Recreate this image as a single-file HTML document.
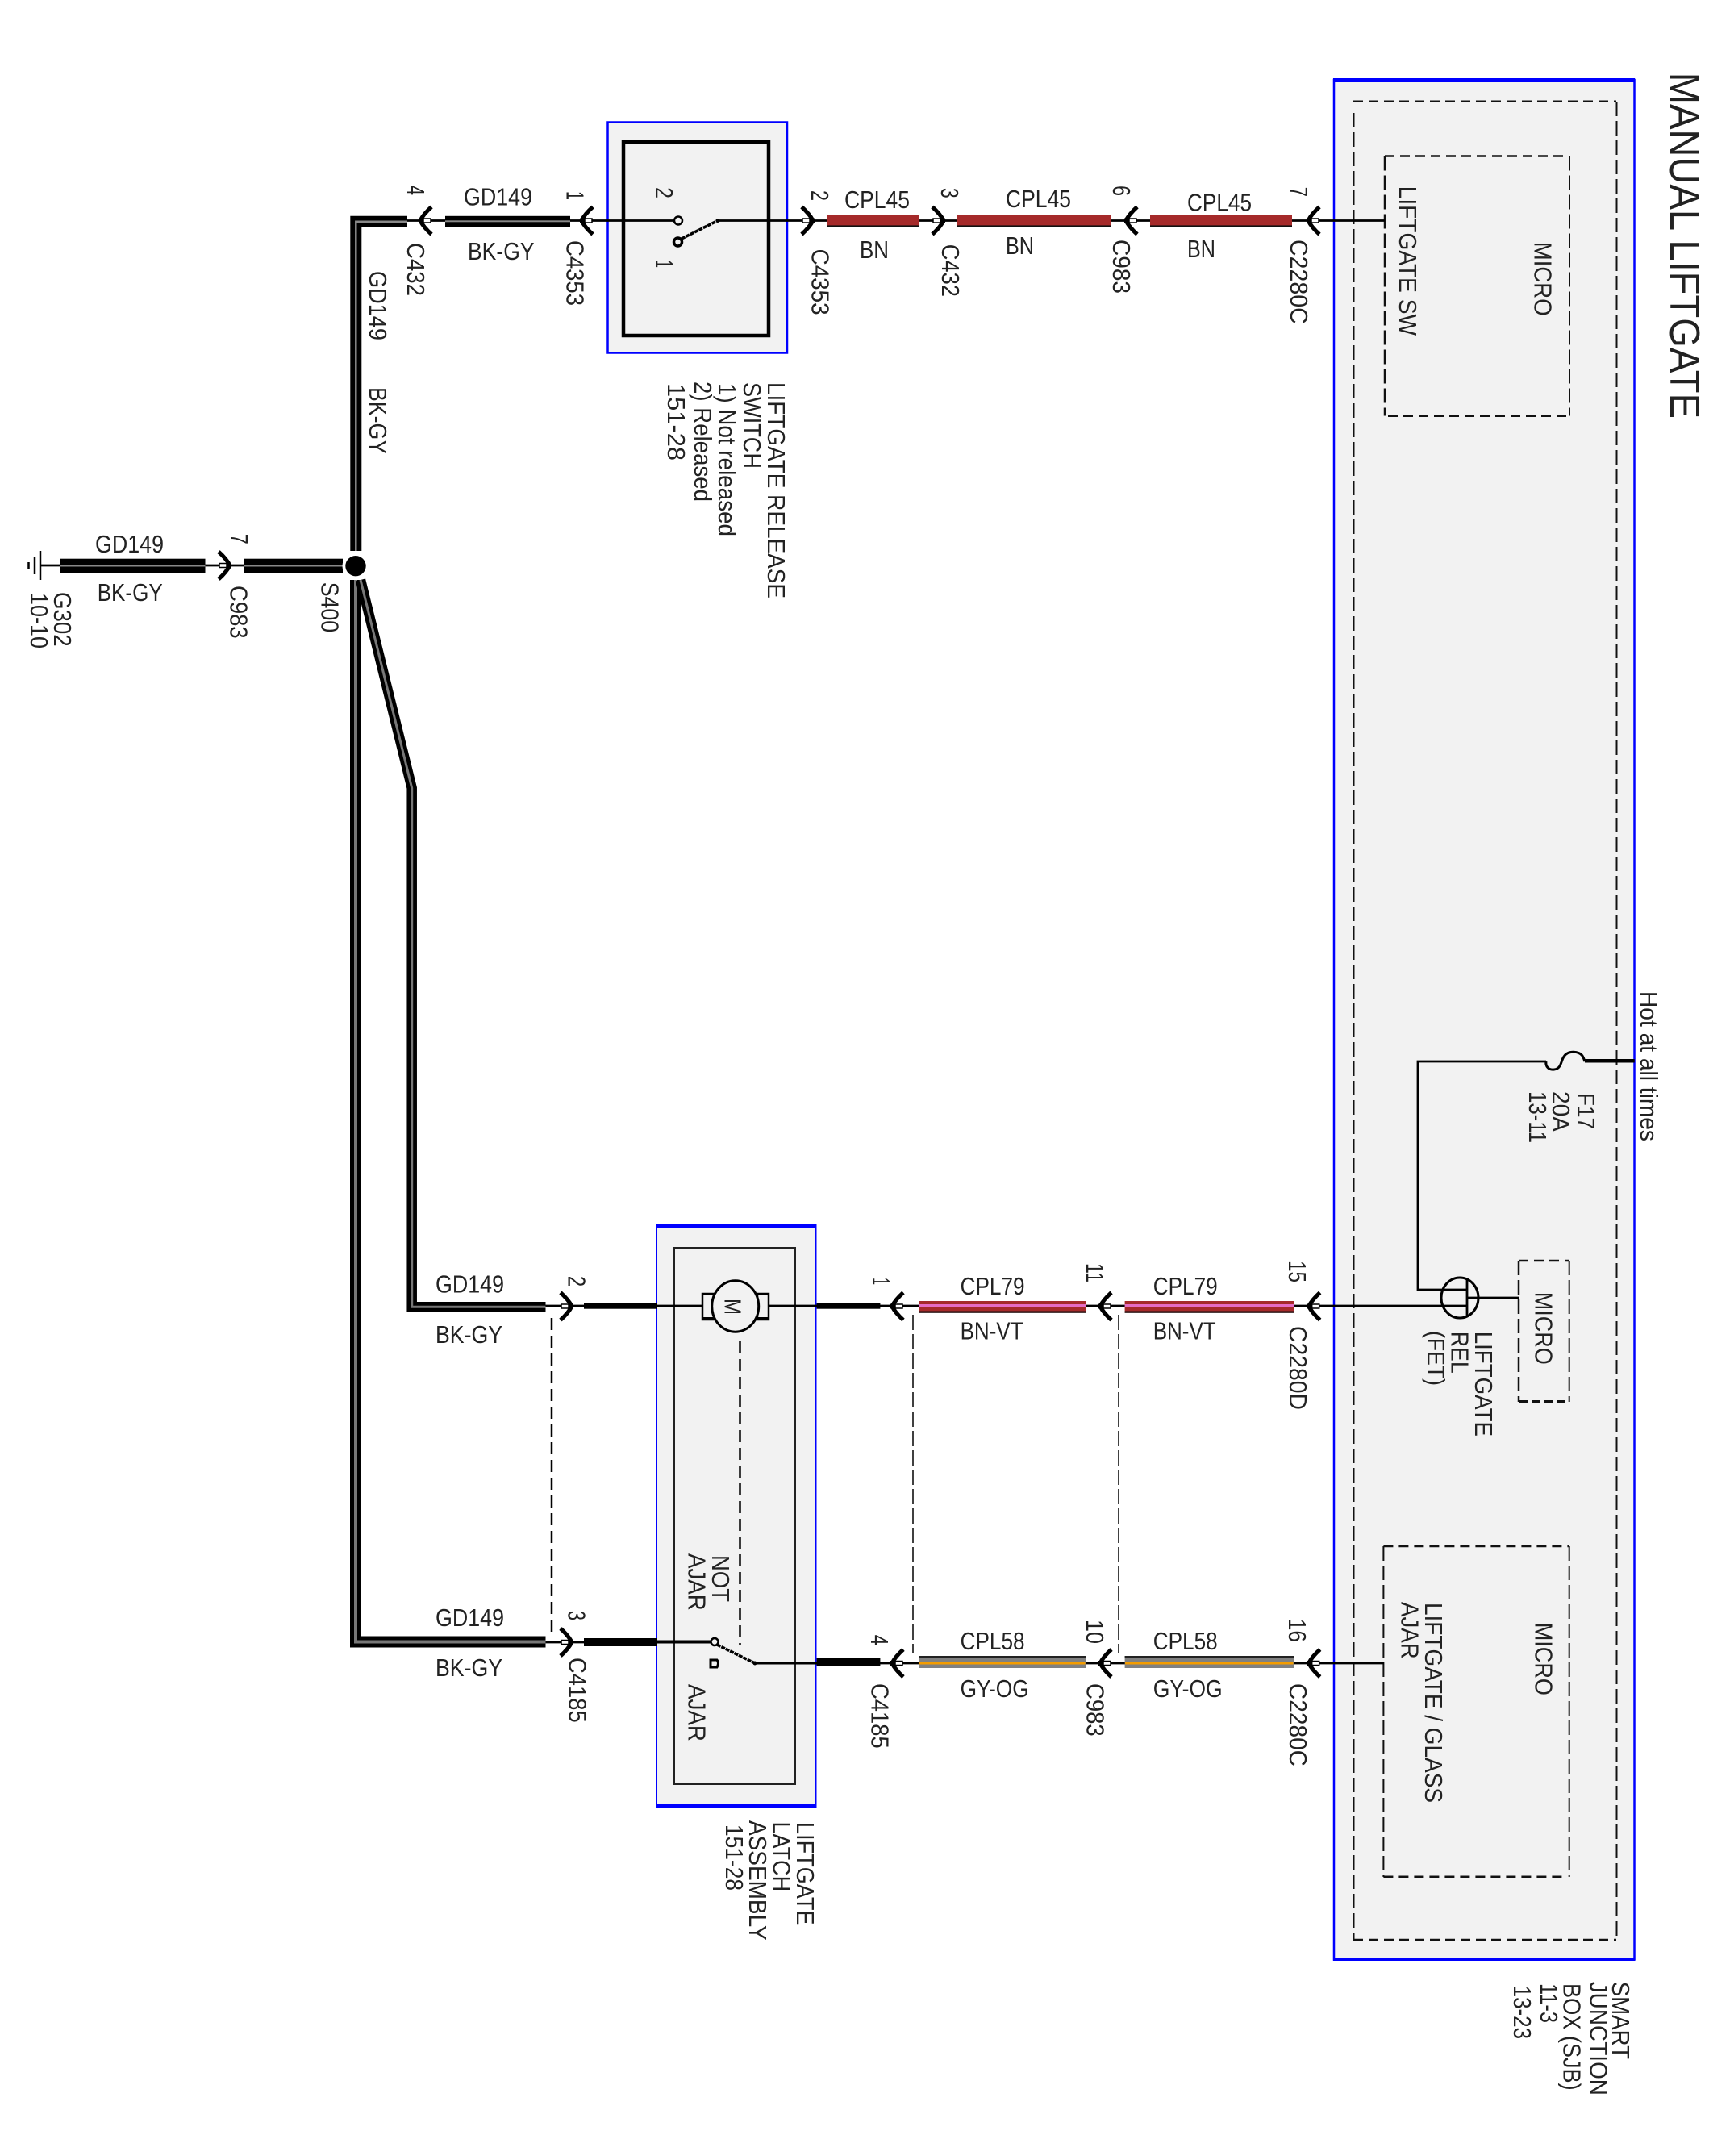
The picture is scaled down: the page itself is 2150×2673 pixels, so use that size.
<!DOCTYPE html>
<html><head><meta charset="utf-8"><style>
html,body{margin:0;padding:0;background:#fff}
svg{display:block}
text{font-family:"Liberation Sans",sans-serif;font-size:31px;fill:#222}
</style></head><body>
<svg width="2150" height="2673" viewBox="0 0 2150 2673" xmlns="http://www.w3.org/2000/svg">
<defs>
<g id="cn"><path d="M15,-17 Q5,-8 1,0 Q5,8 15,17" fill="none" stroke="#000" stroke-width="5"/><rect x="-1" y="-3" width="6" height="6" fill="#000"/><rect x="5" y="-2.500" width="9" height="5" fill="#fff" stroke="#000" stroke-width="1.500"/></g>
</defs>
<rect width="2150" height="2673" fill="#fff"/>

<!-- SJB box -->
<rect x="1654" y="99" width="372.500" height="2330.500" fill="#f2f2f2" stroke="#00f" stroke-width="2.500"/>
<rect x="1653" y="97" width="374" height="5" fill="#00f"/>
<rect x="1653" y="2428" width="374" height="3" fill="#00f"/>
<g fill="none" stroke="#111" stroke-width="2">
<path d="M1678.500,140V2405" stroke-dasharray="18 6"/>
<path d="M2004.500,126V2405" stroke-dasharray="18 6"/>
<path d="M1678,125.700H2004" stroke-width="2.500" stroke-dasharray="12 7"/>
<path d="M1678,2405H2004" stroke-width="2.500" stroke-dasharray="12 7"/>
<path d="M1717,193.500V515.500" stroke-width="2.500" stroke-dasharray="18 6"/>
<path d="M1946,193.500V515.500" stroke-dasharray="18 6"/>
<path d="M1717,193.500H1946" stroke-width="2.500" stroke-dasharray="12 7"/>
<path d="M1721,515.700H1946" stroke-width="2.500" stroke-dasharray="12 7"/>
<path d="M1883,1563V1738" stroke-width="2.500" stroke-dasharray="18 6"/>
<path d="M1945.700,1563V1738" stroke-dasharray="18 6"/>
<path d="M1883,1563H1946" stroke-width="2.500" stroke-dasharray="12 7"/>
<path d="M1883,1738H1940" stroke-width="4" stroke-dasharray="11 5"/>
<path d="M1715.400,1917V2327" stroke-dasharray="18 6"/>
<path d="M1945.700,1917V2327" stroke-dasharray="18 6"/>
<path d="M1715.400,1917H1946" stroke-width="2.500" stroke-dasharray="12 7"/>
<path d="M1715.400,2326.700H1942" stroke-width="2.500" stroke-dasharray="12 7"/>
</g>

<!-- Switch box -->
<rect x="753.500" y="151.500" width="222.500" height="286" fill="#f2f2f2" stroke="#00f" stroke-width="2.500"/>
<rect x="773" y="176" width="180" height="240" fill="#f2f2f2" stroke="#000" stroke-width="4.500"/>

<!-- Latch box -->
<rect x="814" y="1520" width="197.500" height="718" fill="#f2f2f2" stroke="#00f" stroke-width="2"/>
<rect x="813" y="1518" width="199.500" height="5" fill="#00f"/>
<rect x="813" y="2236" width="199.500" height="5" fill="#00f"/>
<rect x="836" y="1547" width="150" height="665" fill="#f2f2f2" stroke="#222" stroke-width="2"/>

<!-- thin wires -->
<g fill="none" stroke="#000" stroke-width="2.800">
<path d="M505,273.500H552M707,273.500H841M890,273.500H1025M1139,273.500H1187M1378,273.500H1426M1602,273.500H1717"/>
<path d="M50,701H75M254,701H302"/>
<path d="M676,1619H724M814,1619H871M953,1619H1013M1091,1619H1140M1346,1619H1395M1604,1619H1819"/>
<path d="M676,2036H724M1091,2062H1140M1346,2062H1395M1604,2062H1716"/>
<path d="M814,2035.500H883" stroke-width="4"/>
<path d="M936,2062H1013" stroke-width="3"/>
<path d="M1917,1316H1758V1599H1819"/>
<path d="M1819,1585V1632M1819,1609H1883"/>
</g>

<!-- dashed links -->
<g fill="none" stroke="#000">
<path d="M684,1634V2030" stroke-width="2.500" stroke-dasharray="15 7"/>
<path d="M917.500,1663V2040" stroke-width="2.500" stroke-dasharray="15 7"/>
<path d="M1132,1630V2050" stroke-width="1.500" stroke-dasharray="19 5"/>
<path d="M1387,1630V2050" stroke-width="1.500" stroke-dasharray="19 5"/>
</g>

<!-- Black-gray wires -->
<g fill="none" stroke-linejoin="miter">
<path d="M505,274.700H441.300V683" stroke="#000" stroke-width="14"/>
<path d="M505,274.700H441.300V683" stroke="#888" stroke-width="2.500"/>
<path d="M441,719V2035.500H676.500" stroke="#000" stroke-width="14"/>
<path d="M441,719V2035.500H676.500" stroke="#777" stroke-width="4"/>
<path d="M447,719L510.700,977V1620.300H676.500" stroke="#000" stroke-width="12.500"/>
<path d="M447,719L510.700,977V1620.300H676.500" stroke="#777" stroke-width="3"/>
<rect x="552" y="267.800" width="155" height="14" fill="#000"/>
<rect x="552" y="273.300" width="155" height="2" fill="#888"/>
<rect x="75" y="692.700" width="179.500" height="17.300" fill="#000"/>
<rect x="75" y="700" width="179.500" height="2.500" fill="#888"/>
<rect x="302" y="692.700" width="123" height="17.300" fill="#000"/>
<rect x="302" y="700" width="123" height="2.500" fill="#888"/>
</g>

<!-- Thick black stubs -->
<rect x="724" y="1615.700" width="90" height="7" fill="#000"/>
<rect x="1012.600" y="1615.700" width="78.800" height="7" fill="#000"/>
<rect x="724" y="2031" width="90" height="10" fill="#000"/>
<rect x="1012.600" y="2056" width="78.800" height="10" fill="#000"/>

<!-- Coloured bands -->
<g>
<rect x="1025" y="267" width="114" height="14.700" fill="#a52a2a"/><rect x="1187" y="267" width="191" height="14.700" fill="#a52a2a"/><rect x="1426" y="267" width="176" height="14.700" fill="#a52a2a"/>
<rect x="1187" y="279.400" width="191" height="2.300" fill="#111"/><rect x="1426" y="279.400" width="176" height="2.300" fill="#111"/><rect x="1025" y="279.400" width="114" height="2.300" fill="#111"/>
<rect x="1139.500" y="1613" width="206.500" height="14.700" fill="#a52a2a"/><rect x="1394.600" y="1613" width="209.400" height="14.700" fill="#a52a2a"/>
<rect x="1139.500" y="1617" width="206.500" height="4" fill="#e56cc4"/><rect x="1394.600" y="1617" width="209.400" height="4" fill="#e56cc4"/>
<rect x="1139.500" y="1625.500" width="206.500" height="2.200" fill="#111"/><rect x="1394.600" y="1625.500" width="209.400" height="2.200" fill="#111"/>
<rect x="1139.500" y="2053" width="206.500" height="15" fill="#808080"/><rect x="1394.600" y="2053" width="209.400" height="15" fill="#808080"/>
<rect x="1139.500" y="2053" width="206.500" height="3" fill="#222"/><rect x="1394.600" y="2053" width="209.400" height="3" fill="#222"/>
<rect x="1140" y="2061" width="205.500" height="2.500" fill="#f39c00"/><rect x="1395" y="2061" width="208.500" height="2.500" fill="#f39c00"/>
</g>

<!-- Connectors -->
<use href="#cn" transform="translate(520,273.500)"/>
<use href="#cn" transform="translate(720,273.500)"/>
<use href="#cn" transform="translate(1009,273.500) scale(-1,1)"/>
<use href="#cn" transform="translate(1171,273.500) scale(-1,1)"/>
<use href="#cn" transform="translate(1395,273.500)"/>
<use href="#cn" transform="translate(1621,273.500)"/>
<use href="#cn" transform="translate(286,701) scale(-1,1)"/>
<use href="#cn" transform="translate(710,1619.500) scale(-1,1)"/>
<use href="#cn" transform="translate(1105,1619.500)"/>
<use href="#cn" transform="translate(1363,1619.500)"/>
<use href="#cn" transform="translate(1621.700,1619.500)"/>
<use href="#cn" transform="translate(710,2036) scale(-1,1)"/>
<use href="#cn" transform="translate(1105,2062)"/>
<use href="#cn" transform="translate(1363,2062)"/>
<use href="#cn" transform="translate(1621.700,2062)"/>

<!-- Node S400 -->
<circle cx="441" cy="701.700" r="16.500" fill="#fff"/>
<circle cx="441" cy="701.700" r="12.700" fill="#000"/>

<!-- Ground -->
<g stroke="#000" stroke-width="2.500"><path d="M50,683V719"/><path d="M43,690V712"/><path d="M35.500,697V705"/></g>

<!-- Switch 1 -->
<g fill="none" stroke="#000">
<circle cx="841" cy="273.500" r="5" fill="#f2f2f2" stroke-width="2.500"/>
<circle cx="840.500" cy="300" r="5" fill="#f2f2f2" stroke-width="3.500"/>
<path d="M845,296L890,273.500" stroke-width="3.500" stroke-dasharray="5 1"/>
</g>
<circle cx="890" cy="273.500" r="2.500" fill="#000"/>

<!-- Motor -->
<g fill="#f2f2f2" stroke="#000">
<rect x="871" y="1604" width="14" height="32" stroke-width="2.500"/>
<rect x="939" y="1604" width="14" height="32" stroke-width="2.500"/>
<rect x="870" y="1633" width="15" height="4" fill="#000" stroke="none"/>
<rect x="939" y="1633" width="15" height="4" fill="#000" stroke="none"/>
<ellipse cx="911.700" cy="1619.500" rx="29" ry="31.700" stroke-width="3"/>
</g>

<!-- Latch switch -->
<g fill="none" stroke="#000">
<circle cx="886" cy="2035.500" r="4.500" fill="#f2f2f2" stroke-width="2.500"/>
<path d="M881,2058H889Q892,2062 889,2067H881Z" fill="#f2f2f2" stroke-width="3"/>
<path d="M889,2039L936,2062" stroke-width="3.500" stroke-dasharray="5 1"/>
</g>
<circle cx="936" cy="2062" r="2.500" fill="#000"/>

<!-- FET -->
<ellipse cx="1810" cy="1609" rx="23" ry="25" fill="none" stroke="#000" stroke-width="3"/>

<!-- Fuse -->
<path d="M1917,1316C1916,1322 1920,1327 1927,1326C1936,1325 1935,1316 1939,1310C1944,1302 1958,1303 1962,1309C1964,1312 1964,1314 1965,1316" fill="none" stroke="#000" stroke-width="3"/>
<rect x="1965" y="1313" width="61.700" height="4.500" fill="#000"/>

<!-- Horizontal labels -->
<text x="575" y="254.700" textLength="85" lengthAdjust="spacingAndGlyphs">GD149</text>
<text x="580" y="322" textLength="82.500" lengthAdjust="spacingAndGlyphs">BK-GY</text>
<text x="118" y="685" textLength="85" lengthAdjust="spacingAndGlyphs">GD149</text>
<text x="120.700" y="745" textLength="81" lengthAdjust="spacingAndGlyphs">BK-GY</text>
<text x="540" y="1602.700" textLength="85" lengthAdjust="spacingAndGlyphs">GD149</text>
<text x="540" y="1665" textLength="83" lengthAdjust="spacingAndGlyphs">BK-GY</text>
<text x="540" y="2016" textLength="85" lengthAdjust="spacingAndGlyphs">GD149</text>
<text x="540" y="2078" textLength="83" lengthAdjust="spacingAndGlyphs">BK-GY</text>
<text x="1047" y="258" textLength="81" lengthAdjust="spacingAndGlyphs">CPL45</text>
<text x="1066" y="320" textLength="36" lengthAdjust="spacingAndGlyphs">BN</text>
<text x="1247" y="257" textLength="81" lengthAdjust="spacingAndGlyphs">CPL45</text>
<text x="1247" y="315" textLength="35" lengthAdjust="spacingAndGlyphs">BN</text>
<text x="1472" y="261.700" textLength="80" lengthAdjust="spacingAndGlyphs">CPL45</text>
<text x="1472" y="319" textLength="35" lengthAdjust="spacingAndGlyphs">BN</text>
<text x="1190.600" y="1605" textLength="80" lengthAdjust="spacingAndGlyphs">CPL79</text>
<text x="1429.700" y="1605" textLength="80" lengthAdjust="spacingAndGlyphs">CPL79</text>
<text x="1190.600" y="1660.700" textLength="78" lengthAdjust="spacingAndGlyphs">BN-VT</text>
<text x="1429.700" y="1660.700" textLength="78" lengthAdjust="spacingAndGlyphs">BN-VT</text>
<text x="1190.600" y="2045" textLength="80" lengthAdjust="spacingAndGlyphs">CPL58</text>
<text x="1429.700" y="2045" textLength="80" lengthAdjust="spacingAndGlyphs">CPL58</text>
<text x="1190.600" y="2104" textLength="85" lengthAdjust="spacingAndGlyphs">GY-OG</text>
<text x="1429.700" y="2104" textLength="86" lengthAdjust="spacingAndGlyphs">GY-OG</text>

<!-- Rotated labels -->
<g>
<text transform="translate(505,230) rotate(90)" textLength="12" lengthAdjust="spacingAndGlyphs">4</text>
<text transform="translate(505,301) rotate(90)" textLength="66" lengthAdjust="spacingAndGlyphs">C432</text>
<text transform="translate(702.700,237) rotate(90)" textLength="11" lengthAdjust="spacingAndGlyphs">1</text>
<text transform="translate(702.500,298) rotate(90)" textLength="81" lengthAdjust="spacingAndGlyphs">C4353</text>
<text transform="translate(813,232) rotate(90)" textLength="14" lengthAdjust="spacingAndGlyphs">2</text>
<text transform="translate(813,322) rotate(90)" textLength="10" lengthAdjust="spacingAndGlyphs">1</text>
<text transform="translate(1006,236) rotate(90)" textLength="13" lengthAdjust="spacingAndGlyphs">2</text>
<text transform="translate(1006.500,308.600) rotate(90)" textLength="82" lengthAdjust="spacingAndGlyphs">C4353</text>
<text transform="translate(458,336) rotate(90)" textLength="86" lengthAdjust="spacingAndGlyphs">GD149</text>
<text transform="translate(458,480) rotate(90)" textLength="83" lengthAdjust="spacingAndGlyphs">BK-GY</text>
<text transform="translate(952,474) rotate(90)" textLength="268" lengthAdjust="spacingAndGlyphs">LIFTGATE RELEASE</text>
<text transform="translate(922,474) rotate(90)" textLength="107" lengthAdjust="spacingAndGlyphs">SWITCH</text>
<text transform="translate(891,475) rotate(90)" textLength="190" lengthAdjust="spacingAndGlyphs">1) Not released</text>
<text transform="translate(861,473) rotate(90)" textLength="149" lengthAdjust="spacingAndGlyphs">2) Released</text>
<text transform="translate(828,475) rotate(90)" textLength="96" lengthAdjust="spacingAndGlyphs">151-28</text>
<text transform="translate(286,661.700) rotate(90)" textLength="13" lengthAdjust="spacingAndGlyphs">7</text>
<text transform="translate(285.500,726) rotate(90)" textLength="65.700" lengthAdjust="spacingAndGlyphs">C983</text>
<text transform="translate(398.500,721.700) rotate(90)" textLength="62.500" lengthAdjust="spacingAndGlyphs">S400</text>
<text transform="translate(67,734) rotate(90)" textLength="67.700" lengthAdjust="spacingAndGlyphs">G302</text>
<text transform="translate(38,735) rotate(90)" textLength="69" lengthAdjust="spacingAndGlyphs">10-10</text>
<text transform="translate(704.500,1581.700) rotate(90)" textLength="13.500" lengthAdjust="spacingAndGlyphs">2</text>
<text transform="translate(1082,1584) rotate(90)" textLength="9" lengthAdjust="spacingAndGlyphs">1</text>
<text transform="translate(898.500,1610) rotate(90)" textLength="20" lengthAdjust="spacingAndGlyphs" style="font-size:29px">M</text>
<text transform="translate(883,1928) rotate(90)" textLength="58" lengthAdjust="spacingAndGlyphs">NOT</text>
<text transform="translate(853.500,1926) rotate(90)" textLength="70.700" lengthAdjust="spacingAndGlyphs">AJAR</text>
<text transform="translate(853.500,2088) rotate(90)" textLength="71" lengthAdjust="spacingAndGlyphs">AJAR</text>
<text transform="translate(704.500,1997) rotate(90)" textLength="12" lengthAdjust="spacingAndGlyphs">3</text>
<text transform="translate(705.500,2055) rotate(90)" textLength="80.700" lengthAdjust="spacingAndGlyphs">C4185</text>
<text transform="translate(1080,2026.700) rotate(90)" textLength="13" lengthAdjust="spacingAndGlyphs">4</text>
<text transform="translate(1080.500,2087) rotate(90)" textLength="80.700" lengthAdjust="spacingAndGlyphs">C4185</text>
<text transform="translate(988,2259) rotate(90)" textLength="127.500" lengthAdjust="spacingAndGlyphs">LIFTGATE</text>
<text transform="translate(958.500,2258.500) rotate(90)" textLength="86.700" lengthAdjust="spacingAndGlyphs">LATCH</text>
<text transform="translate(929,2257) rotate(90)" textLength="148.700" lengthAdjust="spacingAndGlyphs">ASSEMBLY</text>
<text transform="translate(900,2262) rotate(90)" textLength="82" lengthAdjust="spacingAndGlyphs">151-28</text>
<text transform="translate(2071,89.700) rotate(90)" textLength="429.300" lengthAdjust="spacingAndGlyphs" style="font-size:51.500px">MANUAL LIFTGATE</text>
<text transform="translate(1167,233) rotate(90)" textLength="12.700" lengthAdjust="spacingAndGlyphs">3</text>
<text transform="translate(1168,302.700) rotate(90)" textLength="65.300" lengthAdjust="spacingAndGlyphs">C432</text>
<text transform="translate(1380,230) rotate(90)" textLength="13" lengthAdjust="spacingAndGlyphs">6</text>
<text transform="translate(1380,297) rotate(90)" textLength="67" lengthAdjust="spacingAndGlyphs">C983</text>
<text transform="translate(1600,231.700) rotate(90)" textLength="12.300" lengthAdjust="spacingAndGlyphs">7</text>
<text transform="translate(1600,297) rotate(90)" textLength="104.700" lengthAdjust="spacingAndGlyphs">C2280C</text>
<text transform="translate(1735,230.700) rotate(90)" textLength="185.300" lengthAdjust="spacingAndGlyphs">LIFTGATE SW</text>
<text transform="translate(1902.500,299.700) rotate(90)" textLength="92" lengthAdjust="spacingAndGlyphs">MICRO</text>
<text transform="translate(2034,1229) rotate(90)" textLength="186" lengthAdjust="spacingAndGlyphs">Hot at all times</text>
<text transform="translate(1956,1355) rotate(90)" textLength="45" lengthAdjust="spacingAndGlyphs">F17</text>
<text transform="translate(1925,1353) rotate(90)" textLength="50" lengthAdjust="spacingAndGlyphs">20A</text>
<text transform="translate(1896,1353) rotate(90)" textLength="64" lengthAdjust="spacingAndGlyphs">13-11</text>
<text transform="translate(1347,1566) rotate(90)" textLength="24" lengthAdjust="spacingAndGlyphs">11</text>
<text transform="translate(1598,1563) rotate(90)" textLength="27" lengthAdjust="spacingAndGlyphs">15</text>
<text transform="translate(1599,1644) rotate(90)" textLength="104" lengthAdjust="spacingAndGlyphs">C2280D</text>
<text transform="translate(1903.500,1601.700) rotate(90)" textLength="90" lengthAdjust="spacingAndGlyphs">MICRO</text>
<text transform="translate(1829,1650.700) rotate(90)" textLength="130.300" lengthAdjust="spacingAndGlyphs">LIFTGATE</text>
<text transform="translate(1799.600,1650.700) rotate(90)" textLength="52" lengthAdjust="spacingAndGlyphs">REL</text>
<text transform="translate(1770,1650) rotate(90)" textLength="68" lengthAdjust="spacingAndGlyphs">(FET)</text>
<text transform="translate(1347,2008) rotate(90)" textLength="30" lengthAdjust="spacingAndGlyphs">10</text>
<text transform="translate(1347.500,2087) rotate(90)" textLength="65.700" lengthAdjust="spacingAndGlyphs">C983</text>
<text transform="translate(1598,2006.700) rotate(90)" textLength="29.300" lengthAdjust="spacingAndGlyphs">16</text>
<text transform="translate(1599,2087) rotate(90)" textLength="103" lengthAdjust="spacingAndGlyphs">C2280C</text>
<text transform="translate(1767,1987) rotate(90)" textLength="248" lengthAdjust="spacingAndGlyphs">LIFTGATE / GLASS</text>
<text transform="translate(1737.700,1986) rotate(90)" textLength="70.700" lengthAdjust="spacingAndGlyphs">AJAR</text>
<text transform="translate(1903.500,2011.700) rotate(90)" textLength="90.300" lengthAdjust="spacingAndGlyphs">MICRO</text>
<text transform="translate(1999,2456.700) rotate(90)" textLength="96.300" lengthAdjust="spacingAndGlyphs">SMART</text>
<text transform="translate(1971.500,2456.700) rotate(90)" textLength="141.300" lengthAdjust="spacingAndGlyphs">JUNCTION</text>
<text transform="translate(1938.500,2459) rotate(90)" textLength="132.700" lengthAdjust="spacingAndGlyphs">BOX (SJB)</text>
<text transform="translate(1910,2459) rotate(90)" textLength="49" lengthAdjust="spacingAndGlyphs">11-3</text>
<text transform="translate(1877,2461.700) rotate(90)" textLength="66.300" lengthAdjust="spacingAndGlyphs">13-23</text>
</g>
</svg>
</body></html>
